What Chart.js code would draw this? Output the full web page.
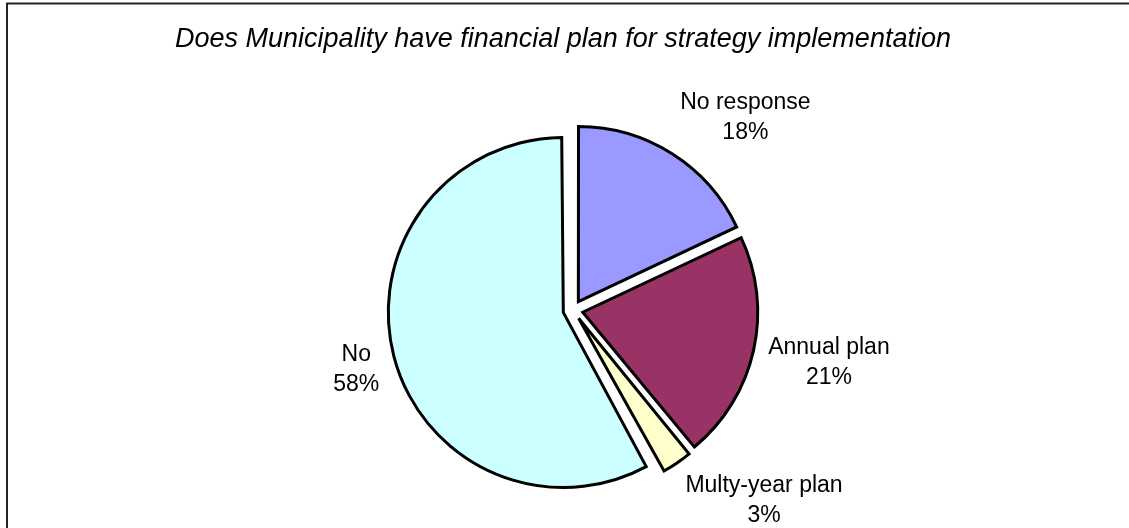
<!DOCTYPE html>
<html>
<head>
<meta charset="utf-8">
<title>Financial plan for strategy implementation</title>
<script src="https://cdn.jsdelivr.net/npm/chart.js@4/dist/chart.umd.min.js"></script>
<style>
  html, body { margin: 0; padding: 0; background: #fff; }
  #wrap { width: 1129px; height: 528px; position: relative; }
</style>
</head>
<body>
<div id="wrap"><canvas id="pieFinancial" width="1129" height="528"></canvas></div>
<script>
var titulo = "Does Municipality have financial plan for strategy implementation";
var categorias = ["No response", "Annual plan", "Multy-year plan", "No"];
var percentuais = [18, 21, 3, 58];
var cores = ["#9999FF", "#993366", "#FFFFCC", "#CCFFFF"];

var FONTE = "'Liberation Sans', Arial, sans-serif";
var RAIO = 175;
// chart.js moves each arc by offset/4 px
var OFFSET = 40;

// frame + title drawn on the canvas itself
var molduraPlugin = {
  id: "moldura",
  beforeDraw: function(chart) {
    var ctx = chart.ctx;
    ctx.save();
    ctx.fillStyle = "#fff";
    ctx.fillRect(0, 0, chart.width, chart.height);
    ctx.strokeStyle = "#222";
    ctx.lineWidth = 2;
    ctx.strokeRect(7, 3.5, chart.width + 40, chart.height + 40);
    ctx.fillStyle = "#000";
    ctx.font = "italic 27px " + FONTE;
    ctx.textAlign = "center";
    ctx.textBaseline = "alphabetic";
    ctx.fillText(titulo, 563, 47);
    ctx.restore();
  }
};

// exploded arcs grow their radius with the offset; keep every slice at RAIO
var raioPlugin = {
  id: "raioFixo",
  beforeDatasetsDraw: function(chart) {
    var meta = chart.getDatasetMeta(0);
    meta.data.forEach(function(arc) {
      var circ = arc.endAngle - arc.startAngle;
      var fix = 1 - Math.sin(Math.min(Math.PI, circ));
      arc.outerRadius = RAIO - (OFFSET / 4) * fix;
    });
  }
};

// outside labels: "name" over "xx%", pushed away from the slice along its mid angle
var rotulosPlugin = {
  id: "rotulos",
  afterDatasetsDraw: function(chart) {
    var ctx = chart.ctx;
    var meta = chart.getDatasetMeta(0);
    ctx.save();
    ctx.font = "23px " + FONTE;
    ctx.fillStyle = "#000";
    ctx.textAlign = "center";
    ctx.textBaseline = "middle";
    meta.data.forEach(function(arc, i) {
      var meio = (arc.startAngle + arc.endAngle) / 2;
      var dx = Math.cos(meio), dy = Math.sin(meio);
      var dist = RAIO + OFFSET / 4 + 15;
      var ax = arc.x + dx * dist, ay = arc.y + dy * dist;
      var linha1 = categorias[i];
      var linha2 = percentuais[i] + "%";
      var w = Math.max(ctx.measureText(linha1).width, ctx.measureText(linha2).width);
      var h = 48;
      var fx = Math.max(-1, Math.min(1, dx * 2.5));
      var fy = Math.max(-1, Math.min(1, dy * 1.5));
      var cx = ax + fx * w / 2;
      var cy = ay + fy * h / 2;
      ctx.fillText(linha1, cx, cy - 14);
      ctx.fillText(linha2, cx, cy + 16);
    });
    ctx.restore();
  }
};

var ctx = document.getElementById("pieFinancial").getContext("2d");
var grafico = new Chart(ctx, {
  type: "pie",
  data: {
    labels: categorias,
    datasets: [
      {
        data: percentuais,
        backgroundColor: cores,
        borderColor: "#000",
        borderWidth: 3,
        borderJoinStyle: "miter",
        offset: OFFSET
      }
    ]
  },
  options: {
    responsive: false,
    animation: false,
    radius: RAIO,
    layout: { padding: { left: 17, right: 0, top: 92, bottom: 0 } },
    plugins: {
      legend: { display: false },
      tooltip: { enabled: false },
      title: { display: false }
    }
  },
  plugins: [molduraPlugin, raioPlugin, rotulosPlugin]
});
</script>
</body>
</html>
